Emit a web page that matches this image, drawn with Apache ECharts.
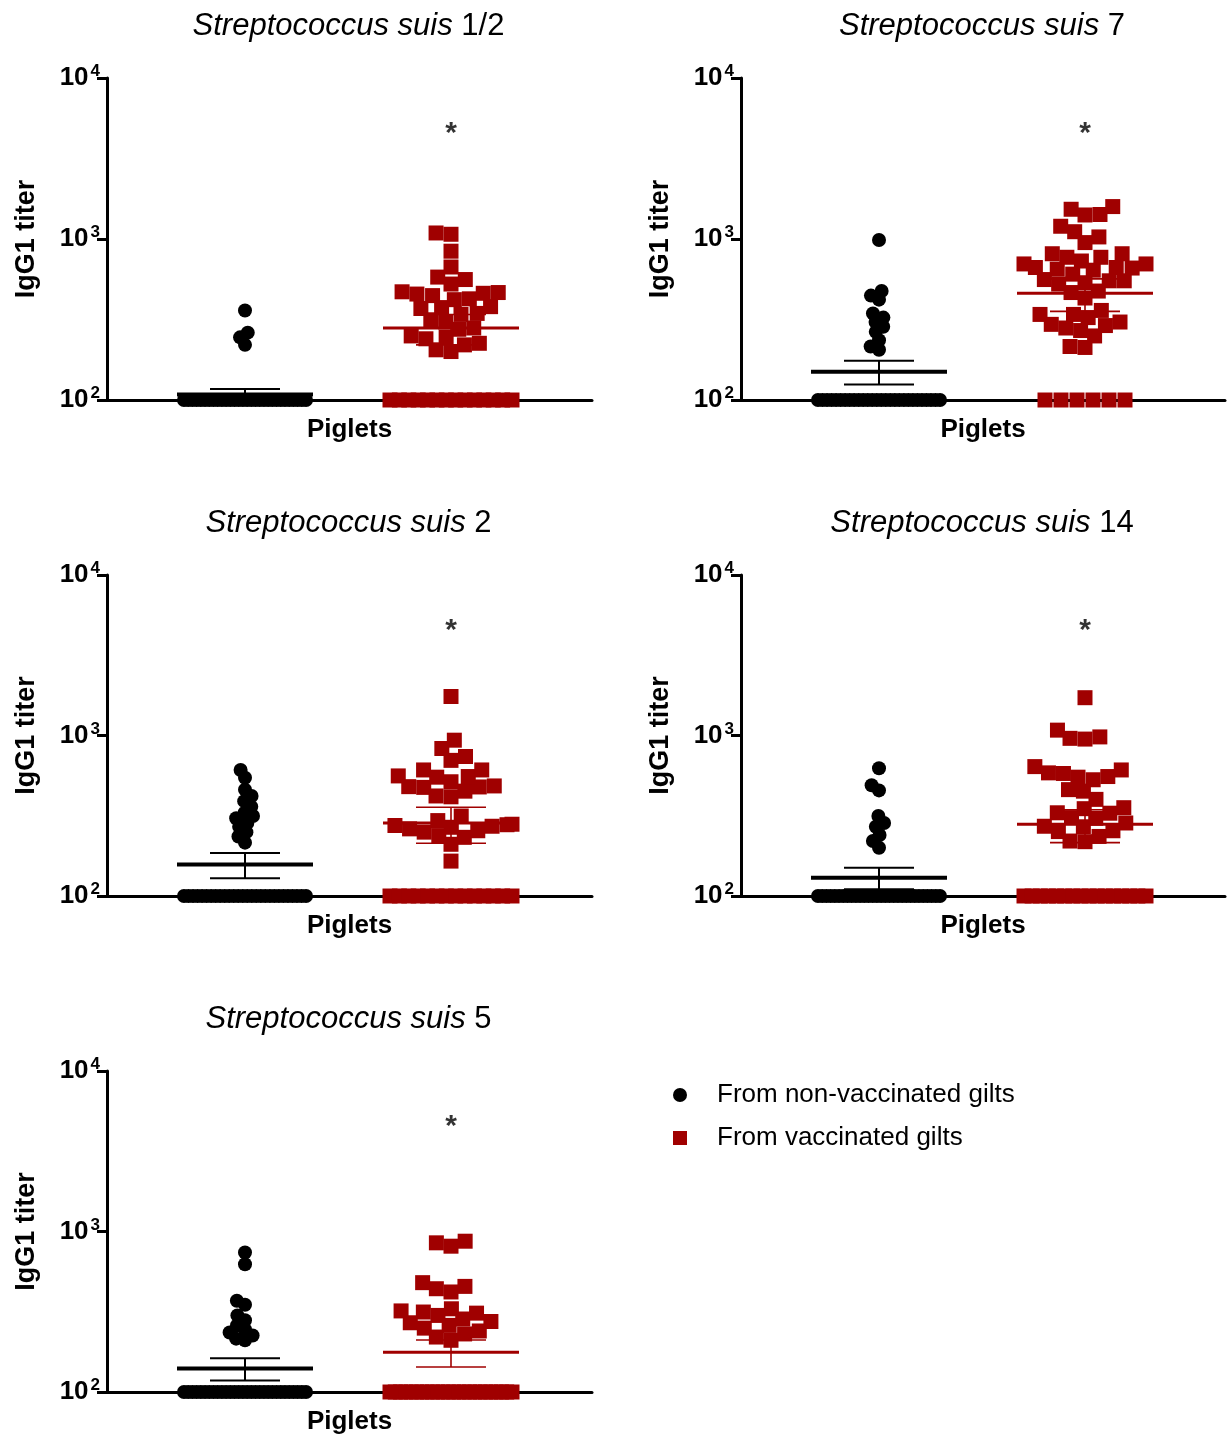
<!DOCTYPE html>
<html>
<head>
<meta charset="utf-8">
<script src="https://cdn.jsdelivr.net/npm/echarts@6/dist/echarts.min.js"></script>
<style>
html,body{margin:0;padding:0;background:#fff;}
#chart{width:1229px;height:1437px;}
</style>
</head>
<body>
<div id="chart"></div>
<script>
// ---------- data ----------
const serotypes = ['1/2', '7', '2', '14', '5'];
const groupNames = ['From non-vaccinated gilts', 'From vaccinated gilts'];
const detectionLimit = 100;
const tickValues = [100, 1000, 10000];
const starValue = 4900;

// individual titers per panel (values at 100 = at / below detection limit)
const s12NonVacc = [360, 262, 245, 220,
  100,100,100,100,100,100,100,100,100,100,100,100,100,100,100,100,100,100,100,100,100,100,100,100,100,100,100,100,100,100];
const s12Vacc = [1090, 1070, 840, 670, 580, 560, 525, 470, 465, 460, 455, 445, 425, 420, 380, 375, 370, 345, 340, 315, 305, 280, 275, 250, 245, 240, 225, 220, 205, 200,
  100,100,100,100,100,100,100,100,100,100,100,100,100,100];

const s7NonVacc = [985, 475, 445, 420, 345, 325, 305, 285, 265, 235, 215, 205,
  100,100,100,100,100,100,100,100,100,100,100,100,100,100,100,100,100,100,100,100,100,100,100,100,100,100,100,100];
const s7Vacc = [1590, 1530, 1420, 1410, 1200, 1110, 1030, 950, 810, 810, 770, 770, 730, 700, 700, 665, 665, 660, 650, 640, 605, 560, 550, 550, 535, 525, 475, 465, 430, 360, 340, 340, 325, 305, 295, 290, 280, 270, 250, 215, 212,
  100,100,100,100,100,100];

const s2NonVacc = [610, 545, 460, 420, 390, 360, 330, 315, 305, 285, 270, 250, 235, 215,
  100,100,100,100,100,100,100,100,100,100,100,100,100,100,100,100,100,100,100,100,100,100,100,100,100,100,100,100];
const s2Vacc = [1750, 935, 830, 740, 700, 610, 610, 560, 555, 550, 515, 485, 480, 478, 475, 450, 420, 415, 315, 295, 280, 278, 275, 272, 268, 262, 255, 250, 238, 232, 210, 165,
  100,100,100,100,100,100,100,100,100,100,100,100,100,100];

const s14NonVacc = [625, 490, 455, 315, 285, 270, 240, 220, 200,
  100,100,100,100,100,100,100,100,100,100,100,100,100,100,100,100,100,100,100,100,100,100,100,100,100,100,100,100,100,100];
const s14Vacc = [1720, 1080, 980, 960, 950, 640, 610, 585, 580, 555, 550, 530, 460, 450, 400, 355, 350, 330, 328, 308, 305, 285, 272, 270, 255, 252, 235, 220, 218,
  100,100,100,100,100,100,100,100,100,100,100,100,100,100,100,100];

const s5NonVacc = [740, 625, 370, 350, 300, 280, 260, 245, 235, 225, 215, 210,
  100,100,100,100,100,100,100,100,100,100,100,100,100,100,100,100,100,100,100,100,100,100,100,100,100,100,100,100,100,100];
const s5Vacc = [870, 850, 810, 480, 455, 440, 420, 330, 320, 315, 310, 300, 285, 275, 270, 260, 250, 240, 230, 220, 210,
  100,100,100,100,100,100,100,100,100,100,100,100,100,100,100,100,100,100,100,100,100,100,100,100];

// mean and SEM per panel: [non-vaccinated, vaccinated]
const meansNonVacc = [108, 150, 157, 130, 140];
const semNonVacc   = [9, 25, 28, 20, 22];
const meansVacc    = [280, 460, 285, 280, 177];
const semVacc      = [60, 105, 72, 65, 34];

const panelValues = [
  [s12NonVacc, s12Vacc],
  [s7NonVacc, s7Vacc],
  [s2NonVacc, s2Vacc],
  [s14NonVacc, s14Vacc],
  [s5NonVacc, s5Vacc]
];

// ---------- layout / style ----------
const FONT = '"Liberation Sans", Arial, Helvetica, sans-serif';
const BLACK = '#000000';
const RED = '#a00000';
const colors = [BLACK, RED];
const symbols = ['circle', 'rect'];
const symSizes = [14, 15];
const swarmDist = [9, 15];
const grids = [
  {left: 107, top: 78,   width: 485, height: 322},
  {left: 741, top: 78,   width: 484, height: 322},
  {left: 107, top: 575,  width: 485, height: 321},
  {left: 741, top: 575,  width: 484, height: 321},
  {left: 107, top: 1071, width: 485, height: 321}
];
const groupCenters = [138, 344];   // px from the y axis (x axis in px units)
const MAX_HALF = 61;

// beeswarm layout in pixel space, derived from the log scale of the grid
function swarm(vals, center, H, D) {
  const out = [];
  const base = vals.filter(v => v <= detectionLimit);
  const rest = vals.filter(v => v > detectionLimit).slice().sort((a, b) => a - b);
  const n = base.length;
  if (n) {
    const sp = n > 1 ? Math.min(16, 2 * MAX_HALF / (n - 1)) : 0;
    base.forEach((v, i) => out.push([center + (i - (n - 1) / 2) * sp, v]));
  }
  const placed = [];
  let flip = 1;
  rest.forEach(v => {
    const y = Math.log10(v / detectionLimit) / 2 * H;
    const cands = [0];
    placed.forEach(p => {
      const dy = y - p.y;
      if (Math.abs(dy) < D) {
        const dx = Math.sqrt(D * D - dy * dy);
        cands.push(p.x + dx, p.x - dx);
      }
    });
    cands.sort((a, b) => (Math.abs(a) - Math.abs(b)) || (flip * (b - a)));
    let x = cands.find(c => placed.every(p => (p.x - c) ** 2 + (p.y - y) ** 2 >= D * D - 1e-6));
    if (x === undefined) x = 0;
    x = Math.max(-MAX_HALF, Math.min(MAX_HALF, x));
    flip = -flip;
    placed.push({x, y});
    out.push([center + x, v]);
  });
  return out;
}

const option = {
  backgroundColor: '#fff',
  animation: false,
  title: [],
  grid: [],
  xAxis: [],
  yAxis: [],
  series: [],
  legend: {
    orient: 'vertical',
    left: 668,
    top: 1077,
    itemWidth: 14,
    itemHeight: 14,
    itemGap: 17,
    data: [
      {name: groupNames[0], icon: 'circle'},
      {name: groupNames[1], icon: 'rect'}
    ],
    textStyle: {fontFamily: FONT, fontSize: 26, color: '#000', padding: [0, 0, 0, 25], lineHeight: 26}
  }
};

grids.forEach((g, i) => {
  option.grid.push(Object.assign({containLabel: false}, g));
  option.title.push({
    text: '{i|Streptococcus suis} {n|' + serotypes[i] + '}',
    left: g.left + g.width / 2 - 6,
    top: g.top - 72,
    textAlign: 'center',
    textStyle: {
      fontFamily: FONT, fontSize: 31, fontWeight: 'normal', color: '#000',
      rich: {
        i: {fontFamily: FONT, fontSize: 31, fontStyle: 'italic', color: '#000'},
        n: {fontFamily: FONT, fontSize: 31, color: '#000'}
      }
    }
  });
  option.xAxis.push({
    type: 'value', gridIndex: i, min: 0, max: g.width,
    axisLine: {show: true, onZero: false, lineStyle: {color: '#000', width: 3}},
    axisTick: {show: false}, axisLabel: {show: false}, splitLine: {show: false},
    name: 'Piglets', nameLocation: 'middle', nameGap: 17,
    nameTextStyle: {fontFamily: FONT, fontSize: 26, fontWeight: 'bold', color: '#000'}
  });
  option.yAxis.push({
    type: 'log', logBase: 10, gridIndex: i, min: 100, max: 10000,
    axisLine: {show: true, lineStyle: {color: '#000', width: 3}},
    axisTick: {show: true, length: 10, lineStyle: {color: '#000', width: 3}},
    minorTick: {show: false},
    splitLine: {show: false},
    axisLabel: {
      margin: 7,
      formatter: v => '{b|10}{s|' + Math.round(Math.log10(v)) + '}',
      rich: {
        b: {fontFamily: FONT, fontSize: 26, fontWeight: 'bold', color: '#000', lineHeight: 30, verticalAlign: 'middle'},
        s: {fontFamily: FONT, fontSize: 17, fontWeight: 'bold', color: '#000', lineHeight: 12, verticalAlign: 'top', padding: [0, 0, 0, 2]}
      }
    },
    name: 'IgG1 titer', nameLocation: 'middle', nameGap: 67, nameRotate: 90,
    nameTextStyle: {fontFamily: FONT, fontSize: 27, fontWeight: 'bold', color: '#000'}
  });

  const means = [meansNonVacc[i], meansVacc[i]];
  const sems = [semNonVacc[i], semVacc[i]];
  [0, 1].forEach(k => {
    // mean +/- SEM
    option.series.push({
      type: 'custom', xAxisIndex: i, yAxisIndex: i, z: 3,
      itemStyle: {color: colors[k]},
      data: [[groupCenters[k], means[k], sems[k]]],
      renderItem: (params, api) => {
        const cx = api.value(0), m = api.value(1), s = api.value(2);
        const pm = api.coord([cx, m]);
        const pu = api.coord([cx, m + s]);
        const pl = api.coord([cx, Math.max(detectionLimit, m - s)]);
        const c = api.visual('color');
        const thick = k === 0 ? 4 : 3;
        const thin = k === 0 ? 2 : 1.6;
        return {
          type: 'group',
          children: [
            {type: 'line', shape: {x1: pm[0] - 68, y1: pm[1], x2: pm[0] + 68, y2: pm[1]}, style: {stroke: c, lineWidth: thick}},
            {type: 'line', shape: {x1: pm[0], y1: pu[1], x2: pm[0], y2: pl[1]}, style: {stroke: c, lineWidth: thin}},
            {type: 'line', shape: {x1: pm[0] - 35, y1: pu[1], x2: pm[0] + 35, y2: pu[1]}, style: {stroke: c, lineWidth: thin}},
            {type: 'line', shape: {x1: pm[0] - 35, y1: pl[1], x2: pm[0] + 35, y2: pl[1]}, style: {stroke: c, lineWidth: thin}}
          ]
        };
      }
    });
    option.series.push({
      type: 'scatter', name: groupNames[k], xAxisIndex: i, yAxisIndex: i, z: 4,
      symbol: symbols[k], symbolSize: symSizes[k], clip: false,
      itemStyle: {color: colors[k], opacity: 1},
      data: swarm(panelValues[i][k], groupCenters[k], g.height, swarmDist[k])
    });
  });
  // significance marker
  option.series.push({
    type: 'scatter', xAxisIndex: i, yAxisIndex: i, z: 5, symbolSize: 0,
    itemStyle: {color: 'rgba(0,0,0,0)'},
    label: {show: true, position: 'inside', formatter: '*', fontFamily: FONT, fontSize: 30, fontWeight: 'bold', color: '#000', offset: [0, 6]},
    data: [[groupCenters[1], starValue]]
  });
});

const chart = echarts.init(document.getElementById('chart'), null, {renderer: 'canvas'});
chart.setOption(option);
</script>
</body>
</html>
